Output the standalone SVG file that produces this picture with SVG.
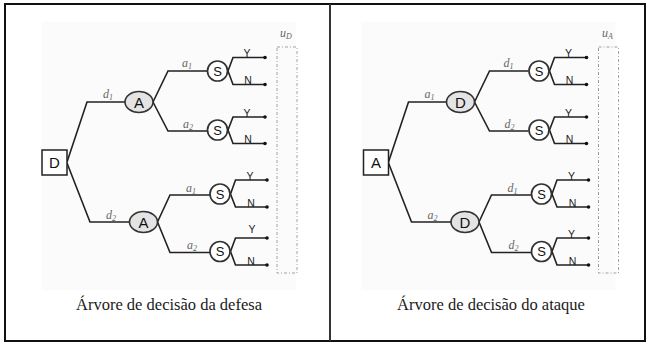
<svg xmlns="http://www.w3.org/2000/svg" width="647" height="342" viewBox="0 0 647 342">
  <style>
    .frame { fill: none; stroke: #111; stroke-width: 2; }
    .divider { stroke: #333; stroke-width: 2; }
    .panel { fill: #fbfbfb; }
    .edge { fill: none; stroke: #222; stroke-width: 1.6; stroke-linejoin: miter; }
    .dot { fill: #111; }
    .box { fill: #fff; stroke: #222; stroke-width: 1.5; }
    .chance { fill: #e4e4e4; stroke: #333; stroke-width: 1.6; }
    .sensor { fill: #fff; stroke: #333; stroke-width: 1.7; }
    .util { fill: none; stroke: #a0a0a0; stroke-width: 1; stroke-dasharray: 3 2 1 2; }
    .node { font-family: "Liberation Sans", Arial, sans-serif; fill: #111; text-anchor: middle; }
    .yn { font-family: "Liberation Sans", Arial, sans-serif; font-size: 10.5px; fill: #222; text-anchor: middle; }
    .lbl { font-family: "Liberation Serif", "Times New Roman", serif; font-style: italic; font-size: 12px; fill: #666; text-anchor: middle; }
    .sub { font-size: 8px; }
    .cap { font-family: "Liberation Serif", "Times New Roman", serif; font-size: 16.5px; fill: #1a1a1a; text-anchor: middle; }
  </style>

  <!-- outer frame and middle divider -->
  <rect class="frame" x="5" y="4" width="640" height="337"/>
  <line class="divider" x1="330" y1="4" x2="330" y2="341"/>

  <!-- ===== Defence tree ===== -->
  <g id="defesa">
    <rect class="panel" x="42" y="22" width="254" height="268"/>

    <g id="connectors-defesa">
      <!-- D -> A -->
      <polyline class="edge" points="67,162 87,102 125,102"/>
      <polyline class="edge" points="67,163 90,222 129.5,222"/>
      <!-- upper A -> S -->
      <polyline class="edge" points="153,102 168,71 207,71"/>
      <polyline class="edge" points="153,102 168,131 207,131"/>
      <!-- lower A -> S -->
      <polyline class="edge" points="157.5,222 170,195 210,195"/>
      <polyline class="edge" points="157.5,222 170,252.5 210,252.5"/>
      <!-- S -> Y/N leaves -->
      <polyline class="edge" points="228,71 233,57.5 265,57.5"/>
      <polyline class="edge" points="228,71 233,84.5 265,84.5"/>
      <polyline class="edge" points="228,130 233,117 265,117"/>
      <polyline class="edge" points="228,130 233,143.5 265,143.5"/>
      <polyline class="edge" points="230.5,194 235.5,180 267,180"/>
      <polyline class="edge" points="230.5,194 235.5,207 267,207"/>
      <polyline class="edge" points="230.5,251.5 235.5,238 267,238"/>
      <polyline class="edge" points="230.5,251.5 235.5,265 267,265"/>
      <circle class="dot" cx="265" cy="57.5" r="1.8"/>
      <circle class="dot" cx="265" cy="84.5" r="1.8"/>
      <circle class="dot" cx="265" cy="117" r="1.8"/>
      <circle class="dot" cx="265" cy="143.5" r="1.8"/>
      <circle class="dot" cx="267" cy="180" r="1.8"/>
      <circle class="dot" cx="267" cy="207" r="1.8"/>
      <circle class="dot" cx="267" cy="238" r="1.8"/>
      <circle class="dot" cx="267" cy="265" r="1.8"/>
      <!-- branch labels -->
      <text class="lbl" x="108" y="98">d<tspan class="sub" dy="2">1</tspan></text>
      <text class="lbl" x="111" y="219">d<tspan class="sub" dy="2">2</tspan></text>
      <text class="lbl" x="187" y="67">a<tspan class="sub" dy="2">1</tspan></text>
      <text class="lbl" x="188" y="128">a<tspan class="sub" dy="2">2</tspan></text>
      <text class="lbl" x="191" y="192">a<tspan class="sub" dy="2">1</tspan></text>
      <text class="lbl" x="192" y="249">a<tspan class="sub" dy="2">2</tspan></text>
      <text class="yn" x="247" y="57">Y</text>
      <text class="yn" x="248" y="84">N</text>
      <text class="yn" x="247" y="116.5">Y</text>
      <text class="yn" x="248" y="143">N</text>
      <text class="yn" x="250" y="179.5">Y</text>
      <text class="yn" x="251" y="206.5">N</text>
      <text class="yn" x="252" y="233">Y</text>
      <text class="yn" x="251" y="264.5">N</text>
    </g>

    <g id="def-D"><rect class="box" x="42" y="150" width="25" height="25"/><text class="node" x="54.5" y="168" font-size="15">D</text></g>
    <g id="def-A1"><ellipse class="chance" cx="139" cy="102" rx="14" ry="10.5"/><text class="node" x="139" y="107.5" font-size="15">A</text></g>
    <g id="def-A2"><ellipse class="chance" cx="143.5" cy="222" rx="14" ry="10.5"/><text class="node" x="143.5" y="227.5" font-size="15">A</text></g>
    <g id="def-S1"><circle class="sensor" cx="217.5" cy="71" r="10"/><text class="node" x="217.5" y="75.5" font-size="13">S</text></g>
    <g id="def-S2"><circle class="sensor" cx="217.5" cy="130" r="10"/><text class="node" x="217.5" y="134.5" font-size="13">S</text></g>
    <g id="def-S3"><circle class="sensor" cx="220" cy="194" r="10"/><text class="node" x="220" y="198.5" font-size="13">S</text></g>
    <g id="def-S4"><circle class="sensor" cx="220" cy="251.5" r="10"/><text class="node" x="220" y="256" font-size="13">S</text></g>
    <g id="def-uD">
      <rect class="util" x="277" y="47" width="20" height="226"/>
      <text class="lbl" x="286" y="37" fill="#888">u<tspan class="sub" dy="2">D</tspan></text>
    </g>
    <text class="cap" x="169" y="310">Árvore de decisão da defesa</text>
  </g>

  <!-- ===== Attack tree ===== -->
  <g id="ataque" transform="translate(321.5,0)">
    <rect class="panel" x="40" y="22" width="254" height="268"/>

    <g id="connectors-ataque">
      <polyline class="edge" points="67,162 87,102 125,102"/>
      <polyline class="edge" points="67,163 90,222 129.5,222"/>
      <polyline class="edge" points="153,102 168,71 207,71"/>
      <polyline class="edge" points="153,102 168,131 207,131"/>
      <polyline class="edge" points="157.5,222 170,195 210,195"/>
      <polyline class="edge" points="157.5,222 170,252.5 210,252.5"/>
      <polyline class="edge" points="228,71 233,57.5 265,57.5"/>
      <polyline class="edge" points="228,71 233,84.5 265,84.5"/>
      <polyline class="edge" points="228,130 233,117 265,117"/>
      <polyline class="edge" points="228,130 233,143.5 265,143.5"/>
      <polyline class="edge" points="230.5,194 235.5,180 267,180"/>
      <polyline class="edge" points="230.5,194 235.5,207 267,207"/>
      <polyline class="edge" points="230.5,251.5 235.5,238 267,238"/>
      <polyline class="edge" points="230.5,251.5 235.5,265 267,265"/>
      <circle class="dot" cx="265" cy="57.5" r="1.8"/>
      <circle class="dot" cx="265" cy="84.5" r="1.8"/>
      <circle class="dot" cx="265" cy="117" r="1.8"/>
      <circle class="dot" cx="265" cy="143.5" r="1.8"/>
      <circle class="dot" cx="267" cy="180" r="1.8"/>
      <circle class="dot" cx="267" cy="207" r="1.8"/>
      <circle class="dot" cx="267" cy="238" r="1.8"/>
      <circle class="dot" cx="267" cy="265" r="1.8"/>
      <text class="lbl" x="108" y="98">a<tspan class="sub" dy="2">1</tspan></text>
      <text class="lbl" x="111" y="219">a<tspan class="sub" dy="2">2</tspan></text>
      <text class="lbl" x="187" y="67">d<tspan class="sub" dy="2">1</tspan></text>
      <text class="lbl" x="188" y="128">d<tspan class="sub" dy="2">2</tspan></text>
      <text class="lbl" x="191" y="192">d<tspan class="sub" dy="2">1</tspan></text>
      <text class="lbl" x="192" y="249">d<tspan class="sub" dy="2">2</tspan></text>
      <text class="yn" x="247" y="57">Y</text>
      <text class="yn" x="248" y="84">N</text>
      <text class="yn" x="247" y="116.5">Y</text>
      <text class="yn" x="248" y="143">N</text>
      <text class="yn" x="250" y="179.5">Y</text>
      <text class="yn" x="251" y="206.5">N</text>
      <text class="yn" x="250" y="237.5">Y</text>
      <text class="yn" x="251" y="264.5">N</text>
    </g>

    <g id="atk-A"><rect class="box" x="42" y="150" width="25" height="25"/><text class="node" x="54.5" y="168" font-size="15">A</text></g>
    <g id="atk-D1"><ellipse class="chance" cx="139" cy="102" rx="14" ry="10.5"/><text class="node" x="139" y="107.5" font-size="15">D</text></g>
    <g id="atk-D2"><ellipse class="chance" cx="143.5" cy="222" rx="14" ry="10.5"/><text class="node" x="143.5" y="227.5" font-size="15">D</text></g>
    <g id="atk-S1"><circle class="sensor" cx="217.5" cy="71" r="10"/><text class="node" x="217.5" y="75.5" font-size="13">S</text></g>
    <g id="atk-S2"><circle class="sensor" cx="217.5" cy="130" r="10"/><text class="node" x="217.5" y="134.5" font-size="13">S</text></g>
    <g id="atk-S3"><circle class="sensor" cx="220" cy="194" r="10"/><text class="node" x="220" y="198.5" font-size="13">S</text></g>
    <g id="atk-S4"><circle class="sensor" cx="220" cy="251.5" r="10"/><text class="node" x="220" y="256" font-size="13">S</text></g>
    <g id="atk-uA">
      <rect class="util" x="277" y="47" width="20" height="226"/>
      <text class="lbl" x="286" y="37" fill="#888">u<tspan class="sub" dy="2">A</tspan></text>
    </g>
    <text class="cap" x="169.5" y="310">Árvore de decisão do ataque</text>
  </g>
</svg>
